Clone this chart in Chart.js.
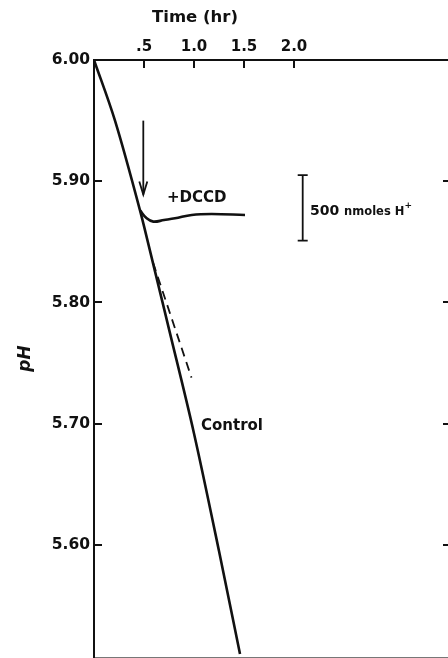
<!DOCTYPE html>
<html>
<head>
<meta charset="utf-8">
<script src="https://cdn.jsdelivr.net/npm/chart.js@4.4.1/dist/chart.umd.min.js"></script>
<style>
  html, body { margin: 0; padding: 0; background: #fff; overflow: hidden; }
  #wrap { width: 456px; height: 658px; }
</style>
</head>
<body>
<div id="wrap"><canvas id="chart" width="456" height="658"></canvas></div>
<script>
// --- Values (time in hr, pH) ---
const controlTime = [0, 0.21, 0.46, 0.5, 0.75, 1.0, 1.25, 1.46];
const controlPH   = [6.00, 5.950, 5.876, 5.863, 5.778, 5.692, 5.595, 5.510];

const dccdTime = [0.46, 0.527, 0.593, 0.70, 0.81, 0.977, 1.177, 1.51];
const dccdPH   = [5.876, 5.8694, 5.8667, 5.868, 5.8694, 5.8722, 5.873, 5.8722];

// dashed extrapolation below the DCCD branch
const extrapTime = [0.59, 0.975];
const extrapPH   = [5.833, 5.738];

// axis ticks
const timeTicks      = [0.5, 1.0, 1.5, 2.0];
const timeTickLabels = [".5", "1.0", "1.5", "2.0"];
const pHTicks        = [6.00, 5.90, 5.80, 5.70, 5.60];
const pHTicksRight   = [5.90, 5.80, 5.70, 5.60];

// annotations (data units)
const arrowTime   = 0.493;
const arrowTopPH  = 5.950;
const arrowTipPH  = 5.889;
const barTime     = 2.087;
const barTopPH    = 5.905;
const barBottomPH = 5.851;
const labelTexts  = ["+DCCD", "Control"];
const labelTime   = [0.73, 1.07];
const labelPH     = [5.886, 5.698];
const scaleLabelTime = 2.16;
const scaleLabelPH   = 5.872;
const timeTitleAt    = 1.01;

const INK  = "#111";
const FONT = "'DejaVu Sans', sans-serif";
const X_MAX  = 3.57;
const PH_MIN = 5.5076;

const toPoints = (xs, ys) => xs.map((t, i) => ({ x: t, y: ys[i] }));

// fixed axis box sizes, no label overhang padding
const fixBox = (w, h) => s => {
  if (w !== null) s.width = w;
  if (h !== null) s.height = h;
  s.paddingLeft = s.paddingRight = s.paddingTop = s.paddingBottom = 0;
};

// --- Arrow, scale bar, text labels ---
const annotations = {
  id: "annotations",
  afterDatasetsDraw(chart) {
    const { ctx, scales: { x, y } } = chart;
    ctx.save();
    ctx.strokeStyle = INK;
    ctx.fillStyle   = INK;
    ctx.lineCap     = "butt";

    // arrow
    const ax  = x.getPixelForValue(arrowTime);
    const ay1 = y.getPixelForValue(arrowTopPH);
    const ay2 = y.getPixelForValue(arrowTipPH);
    ctx.lineWidth = 1.8;
    ctx.beginPath(); ctx.moveTo(ax, ay1); ctx.lineTo(ax, ay2); ctx.stroke();
    ctx.beginPath();
    ctx.moveTo(ax - 4, ay2 - 13); ctx.lineTo(ax, ay2); ctx.lineTo(ax + 4, ay2 - 13);
    ctx.stroke();

    // scale bar
    const bx  = x.getPixelForValue(barTime);
    const by1 = y.getPixelForValue(barTopPH);
    const by2 = y.getPixelForValue(barBottomPH);
    ctx.beginPath();
    ctx.moveTo(bx, by1); ctx.lineTo(bx, by2);
    ctx.moveTo(bx - 5, by1); ctx.lineTo(bx + 5, by1);
    ctx.moveTo(bx - 5, by2); ctx.lineTo(bx + 5, by2);
    ctx.stroke();

    // curve labels
    ctx.textAlign    = "left";
    ctx.textBaseline = "middle";
    ctx.font = `bold 15px ${FONT}`;
    labelTexts.forEach((t, i) => {
      ctx.fillText(t, x.getPixelForValue(labelTime[i]), y.getPixelForValue(labelPH[i]));
    });

    // "500 nmoles H+"
    ctx.textBaseline = "alphabetic";
    let sx = x.getPixelForValue(scaleLabelTime);
    const sy = y.getPixelForValue(scaleLabelPH);
    ctx.font = `bold 14px ${FONT}`;
    ctx.fillText("500", sx, sy);
    sx += ctx.measureText("500 ").width;
    ctx.font = `bold 11.5px ${FONT}`;
    ctx.fillText("nmoles H", sx, sy);
    sx += ctx.measureText("nmoles H").width;
    ctx.font = `bold 9px ${FONT}`;
    ctx.fillText("+", sx, sy - 7);

    // top axis title, centred over the 1.0 tick
    ctx.textAlign    = "center";
    ctx.textBaseline = "middle";
    ctx.font = `bold 16.5px ${FONT}`;
    ctx.fillText("Time (hr)", x.getPixelForValue(timeTitleAt), x.bottom - 42);
    ctx.restore();
  }
};

const lineStyle = { showLine: true, borderColor: INK, pointRadius: 0, xAxisID: "x", yAxisID: "y" };

new Chart(document.getElementById("chart"), {
  type: "scatter",
  data: {
    datasets: [
      { ...lineStyle, data: toPoints(controlTime, controlPH), borderWidth: 2.6, cubicInterpolationMode: "monotone" },
      { ...lineStyle, data: toPoints(dccdTime, dccdPH),       borderWidth: 2.6, tension: 0.4 },
      { ...lineStyle, data: toPoints(extrapTime, extrapPH),   borderWidth: 1.8, borderDash: [9, 6] }
    ]
  },
  options: {
    responsive: false,
    animation: false,
    events: [],
    layout: { padding: 0, autoPadding: false },
    plugins: { legend: { display: false }, tooltip: { enabled: false } },
    scales: {
      x: {
        type: "linear", position: "top", min: 0, max: X_MAX,
        afterBuildTicks: s => { s.ticks = timeTicks.map(v => ({ value: v })); },
        ticks: {
          callback: (v, i) => timeTickLabels[i],
          font: { family: FONT, size: 15, weight: "bold" }, color: INK,
          padding: 12, maxRotation: 0, autoSkip: false
        },
        grid:   { drawOnChartArea: false, tickLength: -8, color: INK, lineWidth: 2 },
        border: { color: INK, width: 2 },
        afterFit: fixBox(null, 60)
      },
      x2: {
        type: "linear", position: "bottom", min: 0, max: X_MAX,
        ticks:  { display: false },
        grid:   { display: false },
        border: { color: "#777", width: 1 },
        afterFit: fixBox(null, 1)
      },
      y: {
        type: "linear", position: "left", min: PH_MIN, max: 6.0,
        afterBuildTicks: s => { s.ticks = pHTicks.map(v => ({ value: v })); },
        ticks: {
          callback: v => v.toFixed(2),
          font: { family: FONT, size: 15.5, weight: "bold" }, color: INK,
          padding: 12, autoSkip: false
        },
        grid:   { drawOnChartArea: false, tickLength: -8, color: INK, lineWidth: 2 },
        border: { color: INK, width: 2 },
        title: {
          display: true, text: "pH", color: INK,
          font: { family: FONT, size: 17, style: "italic", weight: "bold" },
          padding: { top: 15, bottom: 0 }
        },
        afterFit: fixBox(94, null)
      },
      yR: {
        type: "linear", position: "right", min: PH_MIN, max: 6.0,
        afterBuildTicks: s => { s.ticks = pHTicksRight.map(v => ({ value: v })); },
        ticks:  { display: false },
        grid:   { drawOnChartArea: false, tickLength: -8, color: INK, lineWidth: 2 },
        border: { display: false },
        afterFit: fixBox(5, null)
      }
    }
  },
  plugins: [annotations]
});
</script>
</body>
</html>
